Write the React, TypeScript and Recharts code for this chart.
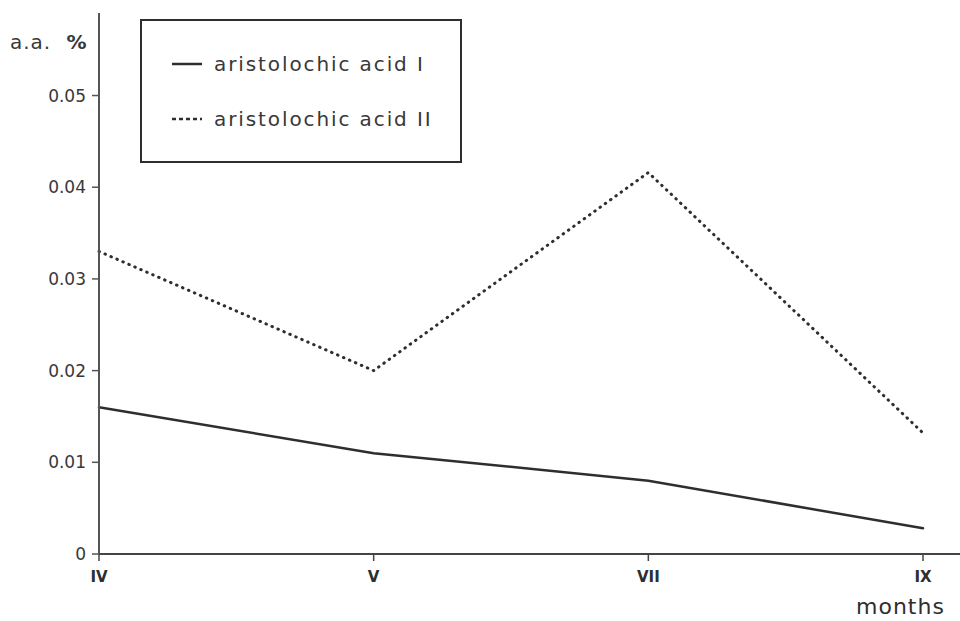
import { LineChart, Line, XAxis, YAxis, Legend } from "recharts";

const MONTHS = ["IV", "V", "VII", "IX"];
const ACID_I = [0.016, 0.011, 0.008, 0.0028];
const ACID_II = [0.033, 0.02, 0.0416, 0.0132];
const Y_TICKS = [0, 0.01, 0.02, 0.03, 0.04, 0.05];

const SERIES = [
  { key: "acidI", label: "aristolochic acid I", dash: undefined as string | undefined },
  { key: "acidII", label: "aristolochic acid II", dash: "0.5 6" },
];

const data = MONTHS.map((m, i) => ({ month: m, acidI: ACID_I[i], acidII: ACID_II[i] }));

const INK = "#2e2e2e";
const FONT = "'DejaVu Sans', sans-serif";

// legend drawn as a boxed key, like the original plot
function LegendBox() {
  return (
    <div
      style={{
        width: 322,
        height: 144,
        border: `2px solid ${INK}`,
        background: "#fff",
        boxSizing: "border-box",
        position: "relative",
        fontFamily: FONT,
      }}
    >
      {SERIES.map((s, i) => (
        <div
          key={s.key}
          style={{
            position: "absolute",
            left: 28,
            top: 44 + i * 55 - 14,
            height: 26,
            display: "flex",
            alignItems: "center",
          }}
        >
          <svg width={34} height={6} style={{ marginRight: 10 }}>
            <line
              x1={2}
              y1={3}
              x2={32}
              y2={3}
              stroke={INK}
              strokeWidth={2.5}
              strokeDasharray={s.dash ? "4 3" : undefined}
            />
          </svg>
          <span
            style={{
              fontSize: 20,
              color: "#383838",
              letterSpacing: 1.9,
              whiteSpace: "nowrap",
            }}
          >
            {s.label}
          </span>
        </div>
      ))}
    </div>
  );
}

export default function App() {
  return (
    <div style={{ position: "absolute", left: 0, top: 0, width: 960, height: 621, background: "#fff" }}>
      <LineChart
        width={960}
        height={621}
        data={data}
        margin={{ top: 13, right: 0, bottom: 0, left: 0 }}
      >
        <XAxis
          dataKey="month"
          padding={{ left: 0, right: 37 }}
          height={67}
          axisLine={{ stroke: "#444", strokeWidth: 2 }}
          tickLine={{ stroke: "#444", strokeWidth: 1.5 }}
          tickSize={7}
          tickMargin={10}
          tick={{ fill: INK, fontSize: 15, fontFamily: FONT, fontWeight: 700 }}
        />
        <YAxis
          width={99}
          domain={[0, 0.059]}
          ticks={Y_TICKS}
          allowDataOverflow
          axisLine={{ stroke: "#555", strokeWidth: 2 }}
          tickLine={{ stroke: "#555", strokeWidth: 1.5 }}
          tickSize={7}
          tickMargin={6}
          tick={{ fill: "#383838", fontSize: 17, fontFamily: FONT }}
          tickFormatter={(v: number) => (v === 0 ? "0" : v.toFixed(2))}
        />
        <Legend
          verticalAlign="middle"
          align="center"
          layout="horizontal"
          wrapperStyle={{ position: "absolute", left: 140, top: 19, width: 322 }}
          content={() => <LegendBox />}
        />
        {SERIES.map((s) => (
          <Line
            key={s.key}
            dataKey={s.key}
            type="linear"
            stroke={INK}
            strokeWidth={s.dash ? 3 : 2.5}
            strokeDasharray={s.dash}
            strokeLinecap="round"
            dot={false}
            activeDot={false}
            isAnimationActive={false}
          />
        ))}
      </LineChart>
      <div
        style={{
          position: "absolute",
          left: 10,
          top: 30,
          fontFamily: FONT,
          fontSize: 20,
          color: "#383838",
          letterSpacing: 1,
          whiteSpace: "nowrap",
        }}
      >
        a.a. <b style={{ marginLeft: 8 }}>%</b>
      </div>
      <div
        style={{
          position: "absolute",
          left: 856,
          top: 594,
          fontFamily: FONT,
          fontSize: 22,
          color: INK,
          letterSpacing: 1,
          whiteSpace: "nowrap",
        }}
      >
        months
      </div>
    </div>
  );
}
